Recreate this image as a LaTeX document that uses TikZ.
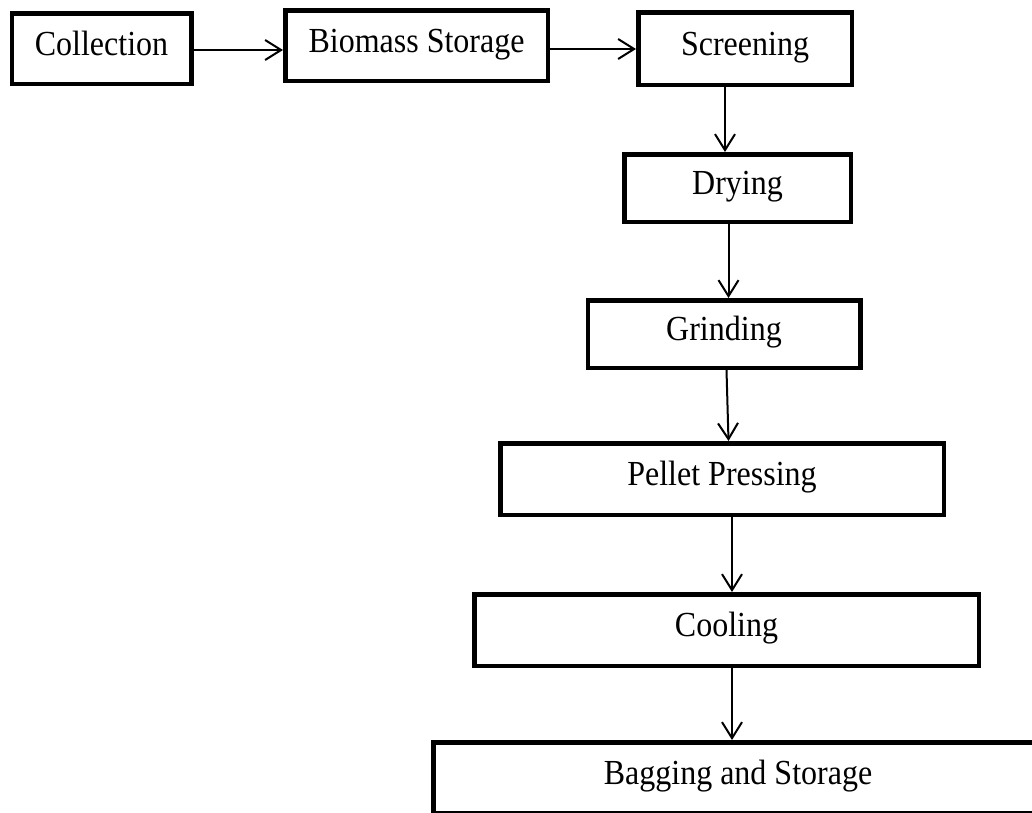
\documentclass[tikz,border=0pt]{standalone}
\usepackage{fontspec}
\setmainfont{Liberation Serif}
\usetikzlibrary{arrows.meta}
\newcommand\vtxt[1]{\scalebox{1}[1.1]{#1}}
\begin{document}
\begin{tikzpicture}[x=1pt,y=-1pt,
  box/.style={draw, line width=4.5pt, inner sep=0pt,
    font=\fontsize{32}{36}\selectfont, text height=22pt, text depth=9pt},
  arr/.style={line width=2pt, -{Straight Barb[length=16pt,width=20pt]}}]
\useasboundingbox (0,0) rectangle (1032,812);
\node[box, minimum width=179.5pt, minimum height=70.5pt] (col) at (101.5,48.5) {\vtxt{Collection}};
\node[box, minimum width=262.5pt, minimum height=70.5pt] (bio) at (416.5,45.5) {\vtxt{Biomass Storage}};
\node[box, minimum width=213.5pt, minimum height=72.5pt] (scr) at (745,48.5) {\vtxt{Screening}};
\node[box, minimum width=226.5pt, minimum height=67.5pt] (dry) at (737.5,188) {\vtxt{Drying}};
\node[box, minimum width=272.5pt, minimum height=67.5pt] (gri) at (724,334) {\vtxt{Grinding}};
\node[box, minimum width=443.5pt, minimum height=71.5pt] (pel) at (722,479) {\vtxt{Pellet Pressing}};
\node[box, minimum width=504.5pt, minimum height=71.5pt] (coo) at (726.5,630) {\vtxt{Cooling}};
\node[box, minimum width=609.5pt, minimum height=71pt] (bag) at (738,777.75) {\vtxt{Bagging and Storage}};
\draw[arr] (col.east |- 0,50) -- (bio.west |- 0,50);
\draw[arr] (bio.east |- 0,49) -- (scr.west |- 0,49);
\draw[arr] (scr.south -| 725,0) -- (dry.north -| 725,0);
\draw[arr] (dry.south -| 728.5,0) -- (gri.north -| 728.5,0);
\draw[arr] (gri.south -| 726.5,0) -- (pel.north -| 728.5,0);
\draw[arr] (pel.south -| 732,0) -- (coo.north -| 732,0);
\draw[arr] (coo.south -| 732,0) -- (bag.north -| 732,0);
\end{tikzpicture}
\end{document}
